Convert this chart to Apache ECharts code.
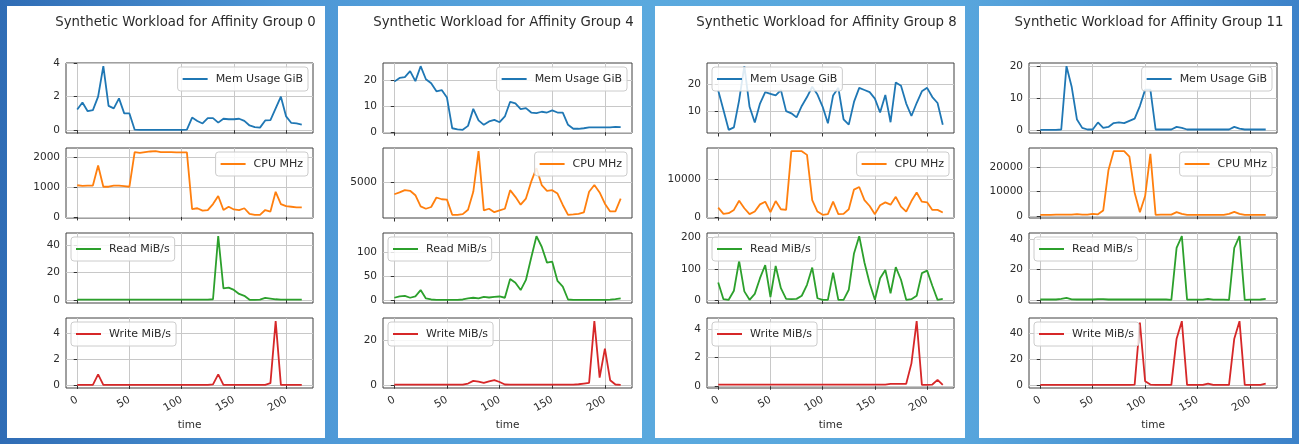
<!DOCTYPE html>
<html>
<head>
<meta charset="utf-8">
<script src="https://cdn.jsdelivr.net/npm/echarts@6/dist/echarts.min.js"></script>
<style>
html, body { margin: 0; padding: 0; width: 1299px; height: 444px; overflow: hidden; }
body {
	position: relative;
	background: linear-gradient(90deg, #2f6cb5 0%, #4d97d6 22%, #5aa9de 50%, #58a6dd 74%, #3c82c9 100%);
}
.panel { position: absolute; top: 6px; height: 432px; background: #fff; }
</style>
</head>
<body>
<div id="p0" class="panel" style="left:7px;width:318px"></div>
<div id="p1" class="panel" style="left:338px;width:304px"></div>
<div id="p2" class="panel" style="left:655px;width:310px"></div>
<div id="p3" class="panel" style="left:979px;width:313px"></div>
<script>
// sample times, every 5 units
var time = [0,5,10,15,20,25,30,35,40,45,50,55,60,65,70,75,80,85,90,95,100,105,
	110,115,120,125,130,135,140,145,150,155,160,165,170,175,180,185,190,195,200,205,210,215];
var xTicks = [0, 50, 100, 150, 200];
var seriesNames = ["Mem Usage GiB", "CPU MHz", "Read MiB/s", "Write MiB/s"];
var groupNames = ["0", "4", "8", "11"];

// affinity group 0
var memG0 = [1.23,1.65,1.13,1.2,2.0,3.82,1.45,1.3,1.9,1.0,1.0,0.03,0.02,0.02,0.02,0.02,0.02,0.02,0.02,0.02,0.02,0.03,
	0.75,0.55,0.4,0.72,0.72,0.45,0.68,0.65,0.65,0.68,0.55,0.28,0.18,0.15,0.58,0.6,1.3,2.0,0.82,0.43,0.4,0.33];
var cpuG0 = [1060,1040,1050,1050,1720,1010,1010,1050,1050,1030,1010,2170,2140,2170,2190,2200,2170,2170,2170,2160,2160,2160,
	260,290,210,230,430,700,230,340,250,230,290,100,70,70,230,180,840,430,360,340,320,320];
var readG0 = [0.3,0.3,0.3,0.3,0.3,0.3,0.3,0.3,0.3,0.3,0.3,0.3,0.3,0.3,0.3,0.3,0.3,0.3,0.3,0.3,0.3,0.3,
	0.3,0.3,0.3,0.3,0.5,46.5,8.5,9,7.3,4.4,3,0.1,0.1,0.2,1.5,1,0.5,0.2,0.2,0.2,0.2,0.2];
var writeG0 = [0.05,0.05,0.05,0.05,0.85,0.05,0.05,0.05,0.05,0.05,0.05,0.05,0.05,0.05,0.05,0.05,0.05,0.05,0.05,0.05,0.05,0.05,
	0.05,0.05,0.05,0.05,0.08,0.85,0.05,0.05,0.05,0.05,0.05,0.05,0.05,0.05,0.05,0.18,4.95,0.05,0.05,0.05,0.05,0.05];

// affinity group 4
var memG4 = [19.3,20.7,21,23.3,19.5,25.2,20.2,18.7,15.6,16.1,13.2,1.5,1.1,0.9,2.4,8.9,4.5,2.8,4.1,4.7,3.8,6,
	11.6,11,8.8,9.2,7.5,7.3,7.8,7.5,8.3,7.5,7.5,2.8,1.3,1.3,1.5,1.8,1.8,1.8,1.8,1.8,2,1.9];
var cpuG4 = [3400,3650,3970,3880,3270,1730,1400,1640,2950,2710,2660,560,560,650,1260,3740,9350,1170,1400,930,1170,1400,
	3970,3040,1960,2800,5140,7000,4670,3880,3970,3500,1920,560,610,700,890,3740,4670,3650,2100,1030,1030,2800];
var readG4 = [5,8,9,5,8,21,3.5,1.4,0.7,0.7,0.7,0.7,0.7,1.4,3.5,5,3.5,7,5.5,7,7.6,5,
	44,36,21,42,88,133,111,78,80,40,28,1.4,0.7,0.7,0.7,0.7,0.7,0.7,0.7,1,2,3.5];
var writeG4 = [0.2,0.2,0.2,0.2,0.2,0.2,0.2,0.2,0.2,0.2,0.2,0.2,0.2,0.2,0.7,1.9,1.6,1,1.7,2.2,1.4,0.3,
	0.2,0.2,0.2,0.2,0.2,0.2,0.2,0.2,0.2,0.2,0.2,0.2,0.2,0.4,0.7,1,28.3,3.3,16.2,2.2,0.3,0.15];

// affinity group 8
var memG8 = [17.6,10.4,3.1,4,14,26.6,11.6,5.8,12.8,17,16.4,15.8,17.8,10,9.2,7.7,11.9,15.2,19,16.1,11.6,5.5,
	15.8,18.6,7,5,13.4,18.6,17.8,17,14.6,9.5,16,5.9,20.6,19.4,12.8,8.2,13,17.3,18.6,15.2,13,5];
var cpuG8 = [2480,850,1030,1880,4270,2310,770,1450,3330,4020,1280,4190,2050,1880,17200,17200,17200,16240,4440,1450,600,770,
	4020,770,850,2050,7180,7860,4440,2900,770,3080,3850,3250,5300,2740,1450,4190,6410,4020,3850,1880,1880,1200];
var readG8 = [57,4,2,31,126,29,2,21,71,113,11,110,39,5,4,5,15,50,105,7,2,2,
	89,2,2,34,150,205,121,55,2,71,97,23,106,66,2,4,15,87,95,47,2,5];
var writeG8 = [0.12,0.12,0.12,0.12,0.12,0.12,0.12,0.12,0.12,0.12,0.12,0.12,0.12,0.12,0.12,0.12,0.12,0.12,0.12,0.12,0.12,0.12,
	0.12,0.12,0.12,0.12,0.12,0.12,0.12,0.12,0.12,0.12,0.12,0.17,0.17,0.17,0.17,1.6,4.55,0.1,0.1,0.12,0.45,0.1];

// affinity group 11
var memG11 = [0.2,0.2,0.2,0.2,0.3,20,13.5,3.4,0.8,0.3,0.3,2.5,0.8,1.1,2.3,2.5,2.3,3,3.7,7.6,12.7,12.7,
	0.3,0.3,0.3,0.3,1.1,0.8,0.3,0.3,0.3,0.3,0.3,0.3,0.3,0.3,0.3,1.1,0.6,0.3,0.3,0.3,0.3,0.3];
var cpuG11 = [400,400,400,450,450,500,450,700,500,500,800,600,2160,18650,26500,26500,26500,24300,9460,1490,8100,25400,
	400,500,500,500,1490,800,400,400,400,400,400,400,400,400,800,1600,800,400,400,400,400,400];
var readG11 = [0.3,0.3,0.3,0.3,0.7,1.3,0.4,0.3,0.3,0.3,0.3,0.5,0.5,0.3,0.3,0.3,0.3,0.3,0.3,0.3,0.3,0.3,
	0.3,0.3,0.3,0.1,34,41.7,0.2,0.2,0.2,0.2,0.7,0.2,0.2,0.2,0.1,34,41.7,0.1,0.2,0.2,0.3,0.7];
var writeG11 = [0.3,0.3,0.3,0.3,0.3,0.3,0.3,0.3,0.3,0.3,0.3,0.3,0.3,0.3,0.3,0.3,0.3,0.3,0.5,48,3,0.5,
	0.3,0.3,0.3,0.3,35.6,49,0.3,0.3,0.3,0.3,1.3,0.3,0.3,0.3,0.3,35.6,49,0.3,0.3,0.3,0.3,1.3];

// y tick values per subplot (mem, cpu, read, write)
var yTicksG0 = [[0, 2, 4], [0, 1000, 2000], [0, 20, 40], [0, 2, 4]];
var yTicksG4 = [[0, 10, 20], [0, 5000], [0, 50, 100], [0, 20]];
var yTicksG8 = [[10, 20], [0, 10000], [0, 100, 200], [0, 2, 4]];
var yTicksG11 = [[0, 10, 20], [0, 10000, 20000], [0, 20, 40], [0, 20, 40]];

var colors = ["#1f77b4", "#ff7f0e", "#2ca02c", "#d62728"];
var FONT = "DejaVu Sans";
var TXT = "#2b2b2b";

var panels = [
	{el: "p0", w: 318, left: 59, right: 12, data: [memG0, cpuG0, readG0, writeG0], ticks: yTicksG0, legend: ["right", "right", "left", "left"]},
	{el: "p1", w: 304, left: 45, right: 10, data: [memG4, cpuG4, readG4, writeG4], ticks: yTicksG4, legend: ["right", "right", "left", "left"]},
	{el: "p2", w: 310, left: 52, right: 11, data: [memG8, cpuG8, readG8, writeG8], ticks: yTicksG8, legend: ["left", "right", "left", "left"]},
	{el: "p3", w: 313, left: 50, right: 15, data: [memG11, cpuG11, readG11, writeG11], ticks: yTicksG11, legend: ["right", "right", "left", "left"]}
];

// matplotlib style 5% margins
function padExtent(vals){
	var lo = Math.min.apply(null, vals);
	var hi = Math.max.apply(null, vals);
	var m = (hi - lo) * 0.05;
	return [lo - m, hi + m];
}

function plainNum(v){
	return String(Math.round(v));
}

function buildOption(p, idx){
	var grids = [], xAxes = [], yAxes = [], series = [], legends = [];
	var plotW = p.w - p.left - p.right;
	for (var k = 0; k < 4; k++) {
		var top = 57 + 85 * k;
		var ext = padExtent(p.data[k]);
		var vals = p.data[k];
		grids.push({
			left: p.left, right: p.right, top: top, height: 70,
			show: true, borderColor: "#404040", borderWidth: 1, backgroundColor: "transparent",
			outerBoundsMode: "none"
		});
		xAxes.push({
			type: "value", gridIndex: k, min: -10.75, max: 225.75,
			axisLine: {show: false},
			axisTick: {show: true, inside: false, length: 3.5, customValues: xTicks, lineStyle: {color: "#333", width: 1}},
			axisLabel: {show: k === 3, customValues: xTicks, formatter: plainNum, rotate: 30, fontSize: 10.5, color: TXT, fontFamily: FONT, margin: 11},
			splitLine: {show: true, lineStyle: {color: "#c8c8c8", width: 1}},
			name: k === 3 ? "time" : "", nameLocation: "middle", nameGap: 32,
			nameTextStyle: {fontSize: 10.5, color: TXT, fontFamily: FONT}
		});
		yAxes.push({
			type: "value", gridIndex: k, min: ext[0], max: ext[1],
			axisLine: {show: false},
			axisTick: {show: true, inside: false, length: 3.5, customValues: p.ticks[k], lineStyle: {color: "#333", width: 1}},
			axisLabel: {customValues: p.ticks[k], formatter: plainNum, fontSize: 10.5, color: TXT, fontFamily: FONT, margin: 6},
			splitLine: {show: true, lineStyle: {color: "#c8c8c8", width: 1}}
		});
		series.push({
			type: "line", name: seriesNames[k], xAxisIndex: k, yAxisIndex: k,
			data: time.map(function(t, i){ return [t, vals[i]]; }),
			symbol: "none", showSymbol: false, smooth: false,
			lineStyle: {width: 1.8, color: colors[k]},
			itemStyle: {color: colors[k]},
			emphasis: {disabled: true}
		});
		var lg = {
			data: [seriesNames[k]], top: top + 4, orient: "horizontal",
			selectedMode: false, padding: [5, 5, 5, 5], icon: "rect", itemWidth: 25, itemHeight: 2, itemGap: 0,
			backgroundColor: "rgba(255,255,255,0.85)", borderColor: "#cccccc", borderWidth: 1, borderRadius: 3,
			textStyle: {fontSize: 11, lineHeight: 14, color: TXT, fontFamily: FONT, padding: [0, 0, 0, 3]}
		};
		if (p.legend[k] === "right") lg.right = p.right + 5;
		else lg.left = p.left + 5;
		legends.push(lg);
	}
	return {
		animation: false,
		textStyle: {fontFamily: FONT},
		title: {
			text: "Synthetic Workload for Affinity Group " + groupNames[idx],
			left: p.left + plotW / 2 - 4, top: 10, padding: 0, textAlign: "center",
			textStyle: {fontSize: 13.3, fontWeight: "normal", color: TXT, fontFamily: FONT}
		},
		grid: grids, xAxis: xAxes, yAxis: yAxes, legend: legends, series: series
	};
}

panels.forEach(function(p, idx){
	var chart = echarts.init(document.getElementById(p.el), null, {renderer: "canvas"});
	chart.setOption(buildOption(p, idx));
});
</script>
</body>
</html>
